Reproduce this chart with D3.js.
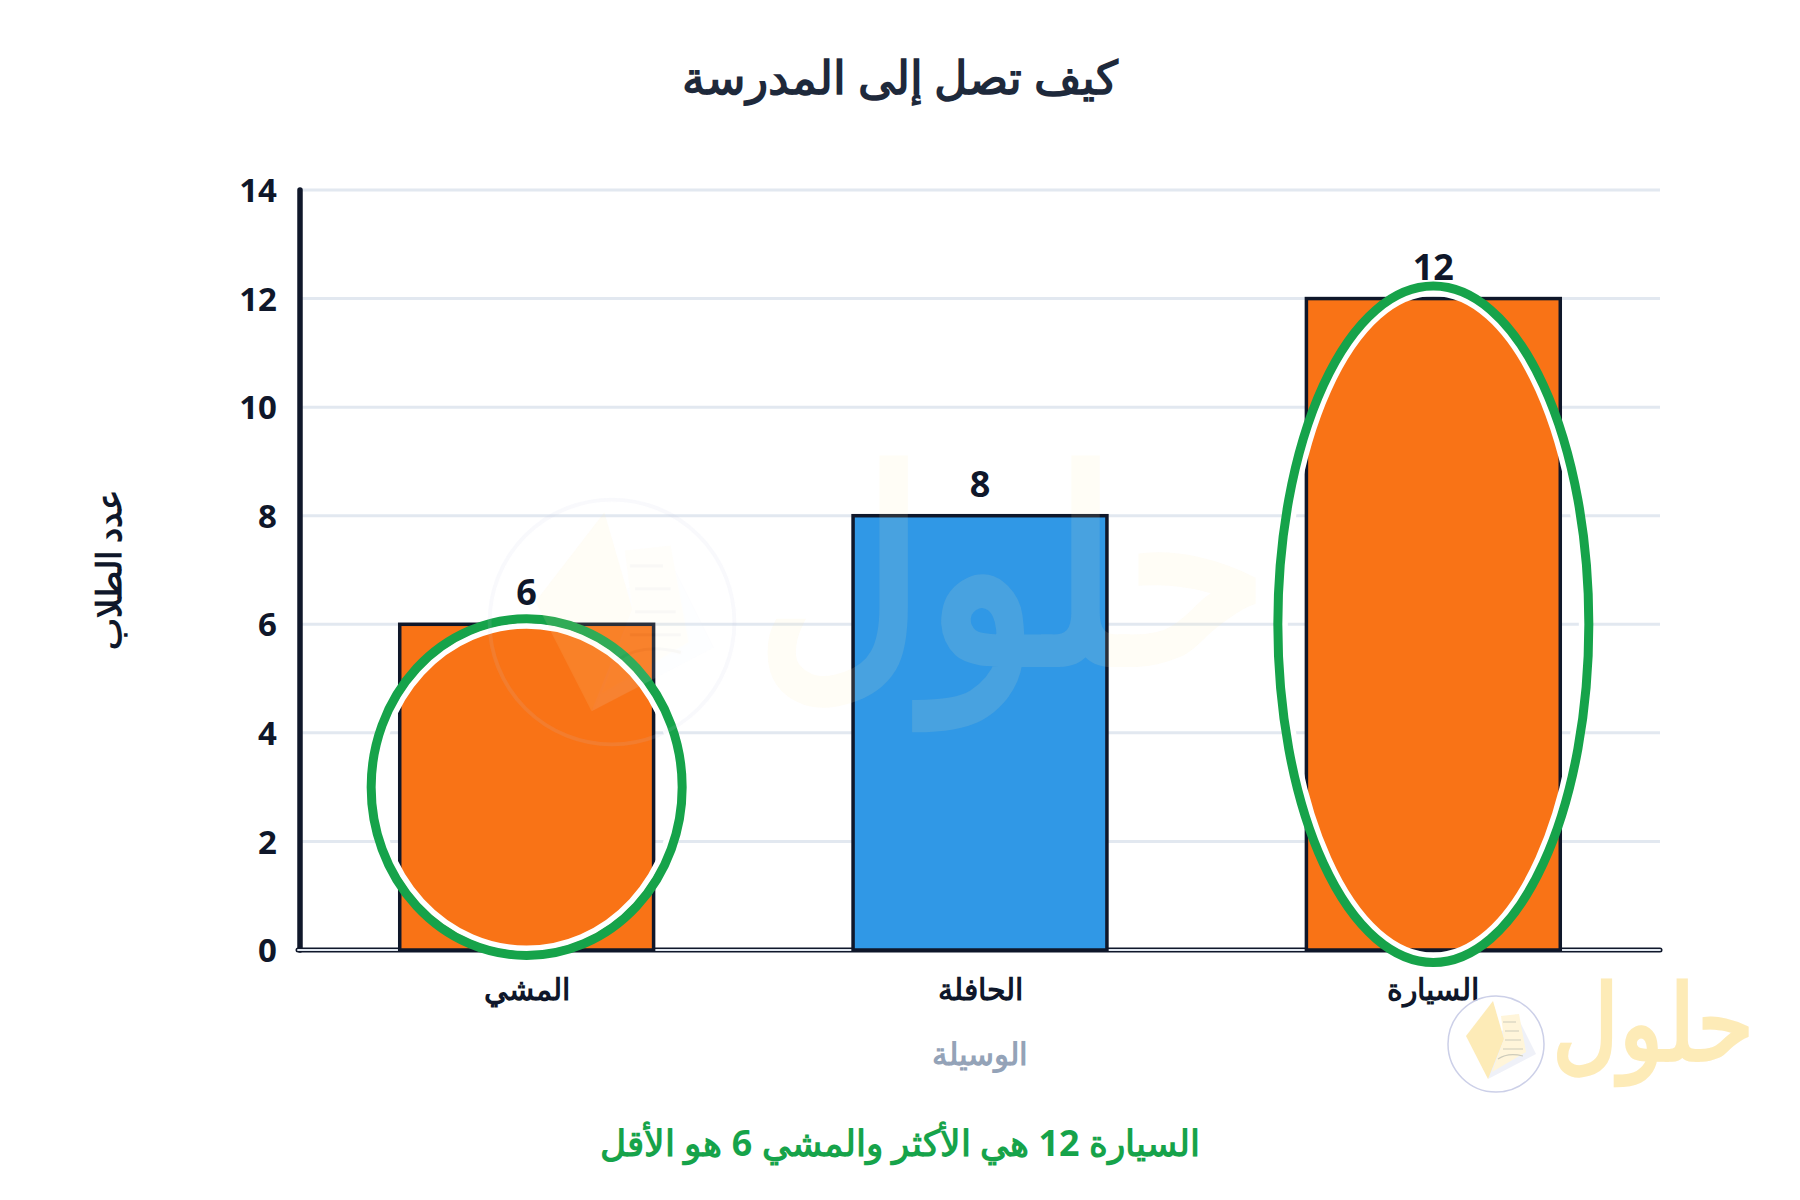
<!DOCTYPE html>
<html lang="ar">
<head>
<meta charset="utf-8">
<script src="https://cdn.jsdelivr.net/npm/d3@7"></script>
<style>
  html, body { margin: 0; padding: 0; background: #fff; }
  svg text { font-family: "Noto Sans", "Open Sans", sans-serif; }
</style>
</head>
<body>
<div id="chart"></div>
<script>
const categories = ['المشي', 'الحافلة', 'السيارة'];
const values = [6, 8, 12];
const barColors = ['#f97316', '#3098e6', '#f97316'];
const yTicks = [0, 2, 4, 6, 8, 10, 12, 14];
const highlighted = ['المشي', 'السيارة'];

const titleText = 'كيف تصل إلى المدرسة';
const yLabelText = 'عدد الطلاب';
const xLabelText = 'الوسيلة';
const noteText = 'السيارة 12 هي الأكثر والمشي 6 هو الأقل';
const logoText = 'حلول';

const ink = '#0f172a';
const green = '#16a34a';

const svg = d3.select('#chart').append('svg')
  .attr('width', 1800)
  .attr('height', 1200);

const x = d3.scaleBand().domain(categories).range([300, 1660]).paddingInner(0.44).paddingOuter(0.22);
const y = d3.scaleLinear().domain([0, 14]).range([950, 190]);

// grid
svg.append('g').selectAll('line')
  .data(yTicks.filter(d => d > 0))
  .join('line')
  .attr('x1', 300).attr('x2', 1660)
  .attr('y1', d => y(d)).attr('y2', d => y(d))
  .attr('stroke', '#e2e8f0').attr('stroke-width', 3);

// axes
svg.append('line').attr('x1', 300).attr('x2', 300).attr('y1', y(14)).attr('y2', y(0))
  .attr('stroke', ink).attr('stroke-width', 5.5).attr('stroke-linecap', 'round');
svg.append('line').attr('x1', 298).attr('x2', 1660).attr('y1', y(0)).attr('y2', y(0))
  .attr('stroke', ink).attr('stroke-width', 5).attr('stroke-linecap', 'round');
svg.append('line').attr('x1', 298).attr('x2', 1660).attr('y1', y(0)).attr('y2', y(0))
  .attr('stroke', '#e2e8f0').attr('stroke-width', 2).attr('stroke-linecap', 'round');

svg.append('g').selectAll('text')
  .data(yTicks)
  .join('text')
  .attr('x', 277).attr('y', d => y(d))
  .attr('dy', '0.37em')
  .attr('text-anchor', 'end')
  .attr('font-size', 33).attr('font-weight', 700).attr('fill', ink)
  .text(d => d);

// bars
svg.append('g').selectAll('rect')
  .data(categories)
  .join('rect')
  .attr('x', d => x(d))
  .attr('y', (d, i) => y(values[i]))
  .attr('width', x.bandwidth())
  .attr('height', (d, i) => y(0) - y(values[i]))
  .attr('fill', (d, i) => barColors[i])
  .attr('stroke', ink).attr('stroke-width', 3.5);

// value labels
svg.append('g').selectAll('text')
  .data(categories)
  .join('text')
  .attr('x', d => x(d) + x.bandwidth() / 2)
  .attr('y', (d, i) => y(values[i]) - 19)
  .attr('text-anchor', 'middle')
  .attr('font-size', 36).attr('font-weight', 700).attr('fill', ink)
  .text((d, i) => values[i]);

// category labels
svg.append('g').selectAll('text')
  .data(categories)
  .join('text')
  .attr('x', d => x(d) + x.bandwidth() / 2)
  .attr('y', 1000)
  .attr('text-anchor', 'middle')
  .attr('font-size', 30).attr('font-weight', 700).attr('fill', ink)
  .text(d => d);

// highlight rings around the extremes
const ringRy = d => (y(0) - y(values[categories.indexOf(d)])) / 2 * 1.043 + 3;
const rings = svg.append('g').selectAll('g')
  .data(highlighted)
  .join('g')
  .attr('transform', d => {
    const v = values[categories.indexOf(d)];
    return `translate(${x(d) + x.bandwidth() / 2},${y(v / 2)})`;
  });
rings.append('ellipse')
  .attr('rx', 148.5)
  .attr('ry', d => ringRy(d) - 11.5)
  .attr('fill', 'none').attr('stroke', '#fff').attr('stroke-width', 6);
rings.append('ellipse')
  .attr('rx', 155.5)
  .attr('ry', d => ringRy(d) - 4.5)
  .attr('fill', 'none').attr('stroke', green).attr('stroke-width', 9);

// titles
svg.append('text').attr('x', 900).attr('y', 94).attr('text-anchor', 'middle')
  .attr('font-size', 45.8).attr('font-weight', 700).attr('fill', '#1e293b').text(titleText);
svg.append('text').attr('transform', 'translate(121,570) rotate(-90)').attr('text-anchor', 'middle')
  .attr('font-size', 34).attr('font-weight', 700).attr('fill', ink).text(yLabelText);
svg.append('text').attr('x', 980).attr('y', 1065).attr('text-anchor', 'middle')
  .attr('font-size', 31).attr('font-weight', 700).attr('fill', '#94a3b8').text(xLabelText);
svg.append('text').attr('x', 900).attr('y', 1156).attr('text-anchor', 'middle')
  .attr('font-size', 35.8).attr('font-weight', 700).attr('fill', green).text(noteText);

// watermarks
function watermark(cx, cy, scale, opacity) {
  const g = svg.append('g')
    .attr('transform', `translate(${cx},${cy}) scale(${scale})`)
    .attr('opacity', opacity)
    .style('pointer-events', 'none');
  g.append('circle').attr('r', 48).attr('fill', 'none').attr('stroke', '#c7cbe6').attr('stroke-width', 1.5);
  g.append('path').attr('d', 'M3,-9 L20,-30 L40,10 L-8,35 Z').attr('fill', '#eef0f8');
  g.append('path').attr('d', 'M-30,-8 L-3,-43 L8,-5 L-8,35 Z').attr('fill', '#fde9b0');
  g.append('path').attr('d', 'M8,-5 L5,-28 L23,-30 L30,8 L-4,28 Z').attr('fill', '#fff5d6');
  g.append('path').attr('d', 'M7,-22 H20 M9,-13 H23 M9,-4 H25 M7,5 H27 M2,15 Q12,8 27,12')
    .attr('fill', 'none').attr('stroke', '#c9c6b4').attr('stroke-width', 1.2);
  g.append('text').attr('transform', 'translate(56,16) scale(1,1.14)').attr('font-size', 92).attr('font-weight', 700)
    .attr('text-anchor', 'start').attr('fill', '#fde9b0').text(logoText);
}
watermark(1496, 1044, 1, 0.9);
watermark(612, 622, 2.55, 0.12);
</script>
</body>
</html>
